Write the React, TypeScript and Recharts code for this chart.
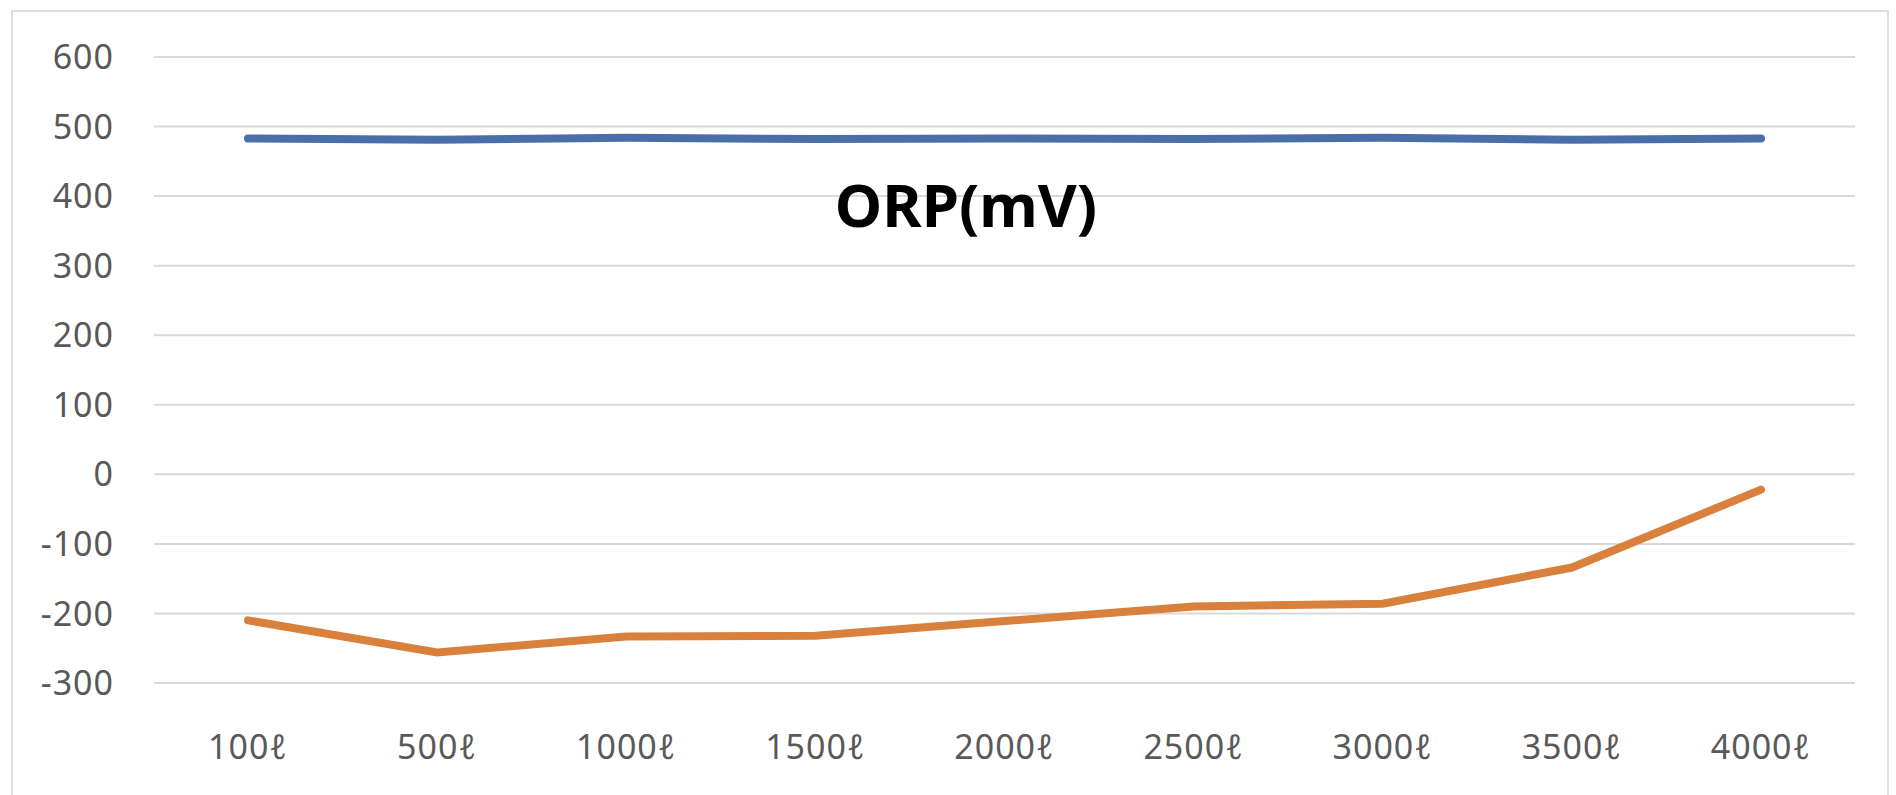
import { LineChart, Line, XAxis, YAxis, CartesianGrid } from "recharts";

const volumes = ["100ℓ", "500ℓ", "1000ℓ", "1500ℓ", "2000ℓ", "2500ℓ", "3000ℓ", "3500ℓ", "4000ℓ"];
const blueSeries = [483, 481, 484, 482, 483, 482, 484, 481, 483];
const orangeSeries = [-210, -256, -233, -232, -211, -190, -186, -134, -22];
const yTicks = [-300, -200, -100, 0, 100, 200, 300, 400, 500, 600];

const data = volumes.map((v, i) => ({ volume: v, a: blueSeries[i], b: orangeSeries[i] }));

const tickStyle = { fontSize: 34, fill: "#595959", fontFamily: "Noto Sans", letterSpacing: 1 };

export default function App() {
    return (
        <div style={{ position: "absolute", left: 0, top: 0, width: 1896, height: 795, background: "#fff", overflow: "hidden" }}>
            <div style={{ position: "absolute", left: 11, top: 10, width: 1878, height: 800, border: "2px solid #dedede", boxSizing: "border-box" }} />
            <LineChart width={1896} height={795} data={data} margin={{ top: 57, right: 41, bottom: 0, left: 0 }}>
                <CartesianGrid vertical={false} stroke="#d9d9d9" strokeWidth={2} />
                <XAxis
                    dataKey="volume"
                    axisLine={false}
                    tickLine={false}
                    tick={tickStyle}
                    tickMargin={46}
                    height={112}
                    padding={{ left: 94, right: 94 }}
                    interval={0}
                />
                <YAxis
                    domain={[-300, 600]}
                    ticks={yTicks}
                    axisLine={false}
                    tickLine={false}
                    tick={tickStyle}
                    width={154}
                    tickMargin={34}
                    interval={0}
                />
                <Line dataKey="a" stroke="#4a6fa8" strokeWidth={8} dot={false} strokeLinecap="round" isAnimationActive={false} />
                <Line dataKey="b" stroke="#d9803c" strokeWidth={8} dot={false} strokeLinecap="round" isAnimationActive={false} />
            </LineChart>
            <svg style={{ position: "absolute", left: 0, top: 0 }} width={1896} height={795}>
                <text x={966} y={227} textAnchor="middle" fontFamily="Noto Sans" fontWeight="bold" fontSize={60} fill="#000">
                    ORP(mV)
                </text>
            </svg>
        </div>
    );
}
